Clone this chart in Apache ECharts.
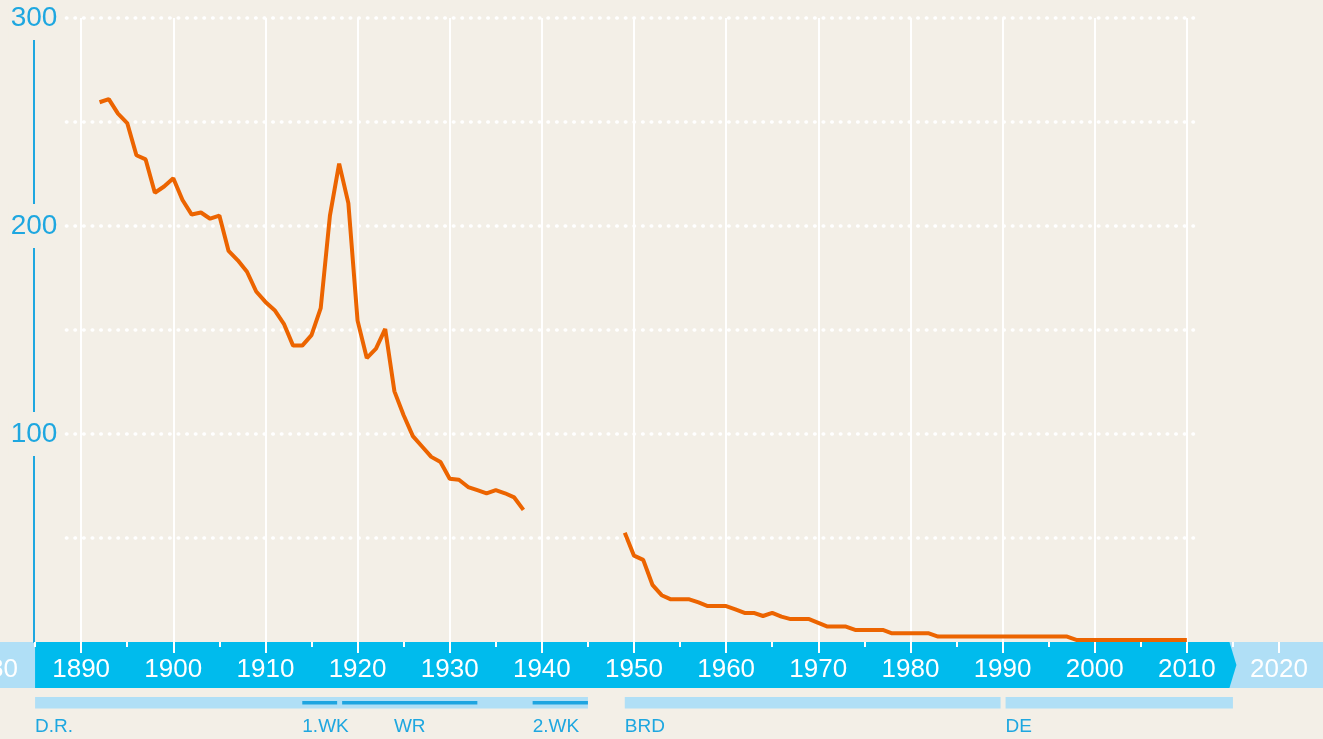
<!DOCTYPE html>
<html>
<head>
<meta charset="utf-8">
<script src="https://cdn.jsdelivr.net/npm/echarts@6/dist/echarts.min.js"></script>
<style>
    html, body { margin: 0; padding: 0; background: #f3efe7; }
    #main { width: 1323px; height: 739px; }
</style>
</head>
<body>
<div id="main"></div>
<script>
// yearly values, first entry = 1892, null = no data (1939-1948)
const firstYear = 1892
const values = [
    259.5, 261, 254, 249.5, 234, 232, 216, 219,                      // 1892-1899
    223, 212.5, 205.5, 206.5, 203.5, 205, 188, 183.5, 178, 168.5,    // 1900-1909
    163.5, 159.5, 153, 142.5, 142.5, 147.5, 160.5, 205, 230, 211,    // 1910-1919
    154.5, 136.5, 141, 150.5, 120.5, 109, 99, 94, 89, 86.5,          // 1920-1929
    78.5, 78, 74.5, 73, 71.5, 73, 71.5, 69.5, 63.5, null,            // 1930-1939
    null, null, null, null, null, null, null, null, null, 52.5,      // 1940-1949
    41.5, 39.5, 27.5, 22.5, 20.5, 20.5, 20.5, 19, 17.3, 17.3,        // 1950-1959
    17.3, 15.7, 14, 14, 12.5, 14, 12.2, 11, 11, 11,                  // 1960-1969
    9.2, 7.4, 7.4, 7.4, 5.8, 5.8, 5.8, 5.8, 4.2, 4.2,                // 1970-1979
    4.2, 4.2, 4.2, 2.6, 2.6, 2.6, 2.6, 2.6, 2.6, 2.6,                // 1980-1989
    2.6, 2.6, 2.6, 2.6, 2.6, 2.6, 2.6, 2.6, 1, 1,                    // 1990-1999
    1, 1, 1, 1, 1, 1, 1, 1, 1, 1, 1                                  // 2000-2010
]
const years = values.map((v, i) => firstYear + i)

const gridValues = [50, 100, 150, 200, 250, 300]
const timeline = [1885, 2015]

const eraNames = ['D.R.', '1.WK', 'WR', '2.WK', 'BRD', 'DE']
const eraStart = [1871, 1914, 1918, 1939, 1949, 1990]
const eraEnd = [1945, 1918, 1933, 1945, 1990, 2015]
const eraLevel = ['main', 'sub', 'sub', 'sub', 'main', 'main']

var myChart = echarts.init(document.getElementById('main'))

const blue = '#1ea7e0'
const band = '#00bbed'
const light = '#b0dff6'
const font = 'Liberation Sans, Arial, sans-serif'

var option = {
    animation: false,
    backgroundColor: '#f3efe7',
    grid: {
        left: -11,
        right: 44,
        top: 18,
        bottom: 97,
        outerBoundsMode: 'none',
        containLabel: false
    },
    xAxis: {
        type: 'value',
        min: 1880,
        max: 2020,
        interval: 10,
        z: 3,
        axisLine: { show: false },
        axisTick: { show: true, length: 11, lineStyle: { color: '#fff', width: 2 } },
        minorTick: { show: true, splitNumber: 2, length: 5, lineStyle: { color: '#fff', width: 2 } },
        minorSplitLine: { show: false },
        splitLine: {
            show: true,
            showMinLine: false,
            showMaxLine: false,
            lineStyle: { color: '#fff', width: 2 }
        },
        axisLabel: {
            color: '#fff',
            fontSize: 26,
            fontFamily: font,
            margin: 15,
            showMinLabel: true,
            showMaxLabel: true,
            formatter: function (v) { return String(v) }
        }
    },
    yAxis: {
        type: 'value',
        min: 0,
        max: 300,
        interval: 100,
        offset: -45,
        z: 3,
        axisLine: { show: true, lineStyle: { color: blue, width: 2 } },
        axisTick: { show: false },
        splitLine: { show: false },
        axisLabel: {
            showMinLabel: false,
            align: 'center',
            margin: 0,
            color: blue,
            fontSize: 28,
            fontFamily: font,
            backgroundColor: '#f3efe7',
            padding: [8, 2]
        }
    },
    series: [
        {
            // timeline band with arrow
            type: 'custom',
            z: 1,
            silent: true,
            encode: { x: [0, 1], y: 2 },
            data: [[timeline[0], timeline[1], 0]],
            renderItem: function (params, api) {
                const a = api.coord([api.value(0), 0])
                const b = api.coord([api.value(1), 0])
                const top = a[1]
                const h = 46
                return {
                    type: 'group',
                    children: [
                        {
                            type: 'rect',
                            shape: { x: 0, y: top, width: api.getWidth(), height: h },
                            style: { fill: light }
                        },
                        {
                            type: 'polygon',
                            shape: {
                                points: [[a[0], top], [b[0] - 3.5, top], [b[0] + 3.5, top + h / 2],
                                    [b[0] - 3.5, top + h], [a[0], top + h]]
                            },
                            style: { fill: band }
                        }
                    ]
                }
            }
        },
        {
            // eras below the timeline
            type: 'custom',
            z: 1,
            silent: true,
            encode: { x: [0, 1], y: 2 },
            data: eraNames.map((n, i) => [eraStart[i], eraEnd[i], 0]),
            renderItem: function (params, api) {
                const i = params.dataIndex
                const s = Math.max(eraStart[i], timeline[0])
                const a = api.coord([s, 0])
                const b = api.coord([eraEnd[i], 0])
                const base = a[1]
                let x0 = a[0], x1 = b[0]
                eraNames.forEach(function (n, j) {
                    if (j === i || eraLevel[j] !== eraLevel[i]) return
                    if (eraEnd[j] === eraStart[i]) x0 += 3
                    if (eraStart[j] === eraEnd[i]) x1 -= 2
                })
                const isMain = eraLevel[i] === 'main'
                const centered = eraNames[i] === 'WR'
                return {
                    type: 'group',
                    children: [
                        {
                            type: 'rect',
                            shape: isMain
                                ? { x: x0, y: base + 55, width: x1 - x0, height: 11.5 }
                                : { x: x0, y: base + 59, width: x1 - x0, height: 3.5 },
                            style: { fill: isMain ? light : '#1ea5e0' }
                        },
                        {
                            type: 'text',
                            x: centered ? (x0 + x1) / 2 : x0,
                            y: base + 85,
                            style: {
                                text: eraNames[i],
                                fill: blue,
                                fontSize: 19,
                                fontFamily: font,
                                align: centered ? 'center' : 'left',
                                verticalAlign: 'middle'
                            }
                        }
                    ]
                }
            }
        },
        {
            // dotted horizontal grid lines
            type: 'line',
            z: 2,
            data: [],
            markLine: {
                z: 2,
                silent: true,
                symbol: 'none',
                label: { show: false },
                lineStyle: { color: '#fff', width: 3.6, type: [0.5, 8.1], cap: 'round' },
                emphasis: { disabled: true },
                data: gridValues.map(v => [{ coord: [1888.4, v] }, { coord: [2011.4, v] }])
            }
        },
        {
            type: 'line',
            z: 6,
            data: years.map((y, i) => [y, values[i] === null ? '-' : values[i]]),
            showSymbol: false,
            symbol: 'none',
            connectNulls: false,
            lineStyle: { color: '#ec6400', width: 4 }
        }
    ]
}
myChart.setOption(option)
</script>
</body>
</html>
